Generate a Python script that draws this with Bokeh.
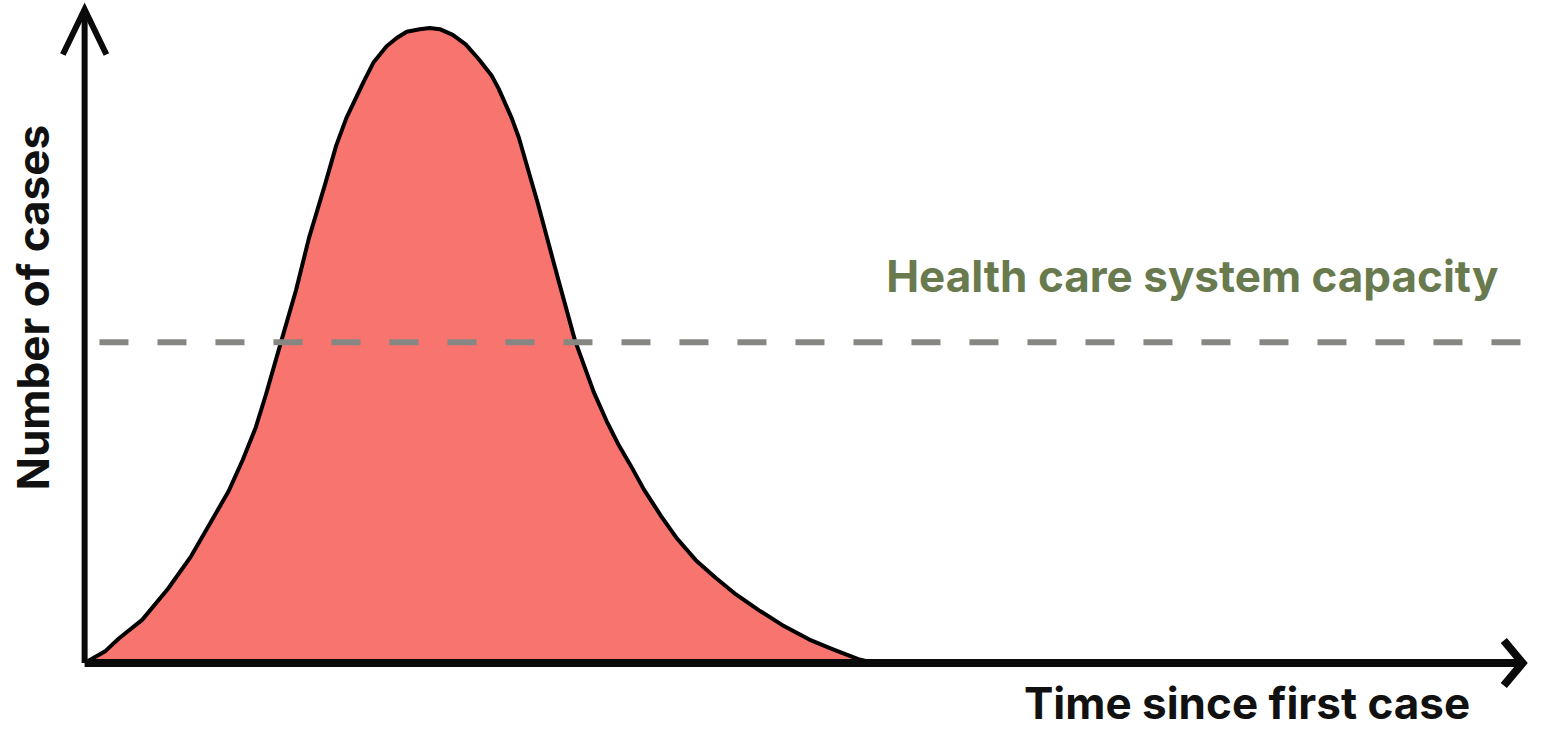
import math
from bokeh.plotting import figure
from bokeh.models import Range1d, Label
from bokeh.embed import file_html
from bokeh.resources import INLINE

# ---- data (arbitrary units, peak = 100) ----
time = [0.0, 1.4, 2.4, 4.0, 5.8, 7.4, 8.7, 10.0, 11.0, 11.9, 12.6, 13.6,
        14.7, 15.6, 16.7, 17.5, 18.2, 19.4, 20.1, 21.0, 21.7, 22.4, 23.3,
        24.0, 24.7, 25.6, 26.5, 27.4, 28.3, 28.8, 29.7, 30.2, 31.5, 32.9,
        34.1, 35.4, 36.3, 37.1, 38.0, 38.9, 40.1, 41.2, 42.5, 43.9, 45.3,
        46.9, 48.5, 50.4, 52.0, 53.8, 54.9]
cases = [0.0, 1.8, 3.9, 6.8, 11.7, 16.8, 21.9, 27.0, 32.0, 37.1, 42.2, 50.1,
         58.7, 66.9, 75.2, 81.5, 85.8, 91.5, 94.6, 97.1, 98.4, 99.4, 99.8,
         100.0, 99.8, 98.9, 97.4, 95.1, 92.5, 90.4, 85.8, 82.7, 72.5, 60.7,
         50.8, 42.7, 38.1, 34.5, 31.0, 27.3, 23.1, 19.6, 16.2, 13.4, 10.8,
         8.3, 6.0, 3.7, 2.2, 0.6, 0.0]
capacity = 50.5
capacity_label = "Health care system capacity"
x_label = "Time since first case"
y_label = "Number of cases"
x_axis_end = 100.0
y_axis_end = 102.9

# ---- layout (reference is 1547x749; the canvas is scaled to fit) ----
W, H = 1531, 733
XPX, YPX = 14.53, 6.49      # reference pixels per data unit
OX, OY = 85, 677            # reference pixel of the origin
REF_W, REF_H = 1547, 749

p = figure(width=W, height=H, output_backend="svg", toolbar_location=None,
           x_axis_type=None, y_axis_type=None,
           x_range=Range1d(-OX / XPX, (REF_W - OX) / XPX),
           y_range=Range1d(-(REF_H - OY) / YPX, OY / YPX),
           min_border=0, min_border_left=0, min_border_right=0,
           min_border_top=0, min_border_bottom=0)
p.outline_line_color = None
p.background_fill_color = "white"
p.border_fill_color = "white"
p.grid.visible = False

# curve
p.varea(x=time, y1=0, y2=cases, fill_color="#F7756E")
p.line(time, cases, line_color="black", line_width=4, line_join="round")

# capacity dashed line
p.line([15 / XPX, x_axis_end + 2], [capacity, capacity], line_color="#868682",
       line_width=6, line_dash="29 29")

# axes with arrow heads
AX = "#0a0a0a"
p.line([0, 0], [0, y_axis_end - 0.3], line_color=AX, line_width=6)
p.line([0, x_axis_end - 0.2], [0, 0], line_color=AX, line_width=8)
p.line([-22 / XPX, 0, 22 / XPX],
       [y_axis_end - 46 / YPX, y_axis_end, y_axis_end - 46 / YPX],
       line_color=AX, line_width=6, line_join="miter")
p.line([x_axis_end - 19 / XPX, x_axis_end, x_axis_end - 19 / XPX],
       [23 / YPX, 0, -23 / YPX],
       line_color=AX, line_width=8, line_join="miter")

FONT = "Inter"
FS = "44px"
p.add_layout(Label(x=(895 - OX) / XPX, y=(OY - 282) / YPX, text=capacity_label,
                   text_font=FONT, text_font_style="bold", text_font_size=FS,
                   text_color="#687A4E", text_align="left", text_baseline="alphabetic"))
p.add_layout(Label(x=(1485 - OX) / XPX, y=(OY - 718) / YPX, text=x_label,
                   text_font=FONT, text_font_style="bold", text_font_size=FS,
                   text_color="#111111", text_align="right", text_baseline="alphabetic"))
p.add_layout(Label(x=(33 - OX) / XPX, y=(OY - 314) / YPX, text=y_label, angle=math.pi / 2,
                   text_font=FONT, text_font_style="bold", text_font_size=FS,
                   text_color="#111111", text_align="center", text_baseline="alphabetic"))

open("out.html", "w").write(file_html(p, INLINE))
